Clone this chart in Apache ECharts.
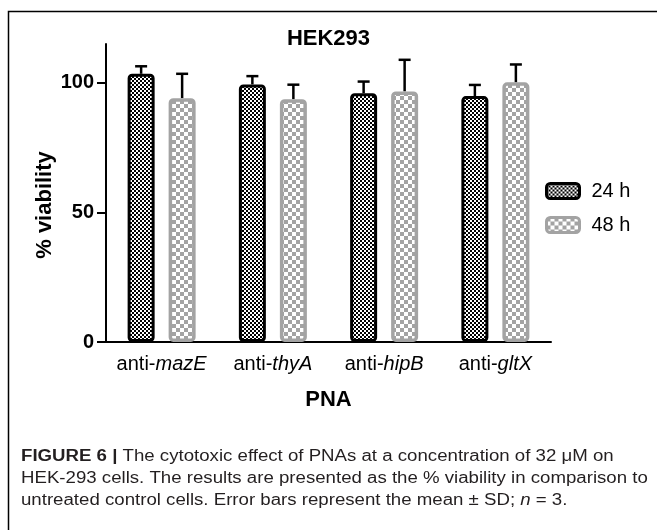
<!DOCTYPE html>
<html>
<head>
<meta charset="utf-8">
<script src="https://cdn.jsdelivr.net/npm/echarts@6/dist/echarts.min.js"></script>
<style>html,body{margin:0;padding:0;background:#fff;}#c{width:657px;height:530px;}</style>
</head>
<body>
<div id="c"></div>
<script>
// ---- data ----
var categories = ['anti-mazE', 'anti-thyA', 'anti-hipB', 'anti-gltX'];
var seriesNames = ['24 h', '48 h'];
var mean24 = [103.5, 99.4, 96.0, 94.9];
var sd24 = [2.9, 3.2, 4.5, 4.3];
var mean48 = [94.1, 93.7, 96.7, 100.2];
var sd48 = [9.4, 5.6, 12.2, 6.9];
var yTicks = [0, 50, 100];

// ---- styles ----
var FONT = 'Liberation Sans, Arial, Helvetica, sans-serif';
var GRAY = '#a3a3a3';
var BAR_W = 27, BAR_GAP = 14;
var OFFSET = (BAR_W + BAR_GAP) / 2;
var CAP_SCALE = 1.165;

function makePattern(cell, fg) {
  var c = document.createElement('canvas');
  c.width = cell * 2; c.height = cell * 2;
  var g = c.getContext('2d');
  g.fillStyle = '#fff'; g.fillRect(0, 0, c.width, c.height);
  g.fillStyle = fg;
  g.fillRect(0, 0, cell, cell);
  g.fillRect(cell, cell, cell, cell);
  return c;
}
var pat24 = { image: makePattern(2, '#000'), repeat: 'repeat' };
var pat48 = { image: makePattern(4, GRAY), repeat: 'repeat' };

function errData(means, sds) {
  return means.map(function (m, i) { return [i, m, sds[i]]; });
}
function errRender(sign) {
  return function (params, api) {
    var x = api.value(0), m = api.value(1), s = api.value(2);
    var p0 = api.coord([x, m]);
    var p1 = api.coord([x, m + s]);
    var cx = p0[0] + sign * OFFSET;
    var cap = 6;
    return {
      type: 'group',
      children: [
        { type: 'line', shape: { x1: cx, y1: p0[1], x2: cx, y2: p1[1] }, style: { stroke: '#000', lineWidth: 2.5 } },
        { type: 'line', shape: { x1: cx - cap, y1: p1[1], x2: cx + cap, y2: p1[1] }, style: { stroke: '#000', lineWidth: 2.5 } }
      ]
    };
  };
}

var chart = echarts.init(document.getElementById('c'), null, { renderer: 'canvas' });
chart.setOption({
  backgroundColor: '#fff',
  animation: false,
  textStyle: { fontFamily: FONT },
  title: {
    text: 'HEK293', left: 'center', top: 23,
    textStyle: { fontFamily: FONT, fontSize: 22, fontWeight: 'bold', color: '#000' }
  },
  grid: { left: 106, right: 106, top: 44, bottom: 188, containLabel: false },
  legend: {
    orient: 'vertical', left: 540, top: 176, itemWidth: 33, itemHeight: 15, itemGap: 14,
    textStyle: { fontFamily: FONT, fontSize: 20, color: '#000', padding: [0, 0, 0, 7], lineHeight: 18 },
    data: [
      { name: seriesNames[0], itemStyle: { color: pat24, borderColor: '#000', borderWidth: 3, borderRadius: 3 } },
      { name: seriesNames[1], itemStyle: { color: pat48, borderColor: GRAY, borderWidth: 3, borderRadius: 3 } }
    ]
  },
  xAxis: {
    type: 'category', data: categories,
    name: 'PNA', nameLocation: 'middle', nameGap: 47,
    nameTextStyle: { fontFamily: FONT, fontSize: 22, fontWeight: 'bold', color: '#000' },
    axisLine: { lineStyle: { color: '#000', width: 2 } },
    axisTick: { alignWithLabel: true, interval: 0, length: 6, lineStyle: { color: '#000', width: 2 } },
    axisLabel: {
      interval: 0, hideOverlap: false,
      fontFamily: FONT, fontSize: 20, color: '#000', margin: 12,
      formatter: function (v) { var p = v.split('-'); return p[0] + '-{i|' + p[1] + '}'; },
      rich: { i: { fontFamily: FONT, fontSize: 20, fontStyle: 'italic', color: '#000' } }
    }
  },
  yAxis: {
    type: 'value', min: 0, max: 115, interval: 50,
    axisLine: { show: true, lineStyle: { color: '#000', width: 2 } },
    axisTick: { show: true, length: 9, lineStyle: { color: '#000', width: 2 }, customValues: yTicks },
    axisLabel: { fontFamily: FONT, fontSize: 20, fontWeight: 'bold', color: '#000', margin: 12, customValues: yTicks },
    splitLine: { show: false }
  },
  series: [
    {
      name: seriesNames[0], type: 'bar', data: mean24, barWidth: BAR_W, barGap: (BAR_GAP / BAR_W * 100) + '%', z: 3,
      itemStyle: { color: pat24, borderColor: '#000', borderWidth: 3, borderRadius: 3 }
    },
    {
      name: seriesNames[1], type: 'bar', data: mean48, barWidth: BAR_W, z: 3,
      itemStyle: { color: pat48, borderColor: GRAY, borderWidth: 3.5, borderRadius: 3 }
    },
    { type: 'custom', renderItem: errRender(-1), data: errData(mean24, sd24), z: 2, silent: true },
    { type: 'custom', renderItem: errRender(1), data: errData(mean48, sd48), z: 2, silent: true }
  ],
  graphic: [
    { type: 'polyline', shape: { points: [[8.5, 530], [8.5, 11.5], [657, 11.5]] }, style: { stroke: '#000', lineWidth: 1.5, fill: null } },
    { type: 'text', x: 45, y: 205, rotation: Math.PI / 2,
      style: { text: '% viability', fontFamily: FONT, fontSize: 22, fontWeight: 'bold', fill: '#000', align: 'center', verticalAlign: 'middle' } },
    { type: 'text', x: 21, y: 457, scaleX: CAP_SCALE,
      style: { text: '{b|FIGURE 6 |} The cytotoxic effect of PNAs at a concentration of 32 μM on', fontFamily: FONT, fontSize: 16, fill: '#231f20', verticalAlign: 'middle',
        rich: { b: { fontFamily: FONT, fontSize: 16, fontWeight: 'bold', fill: '#231f20' } } } },
    { type: 'text', x: 21, y: 479, scaleX: CAP_SCALE,
      style: { text: 'HEK-293 cells. The results are presented as the % viability in comparison to', fontFamily: FONT, fontSize: 16, fill: '#231f20', verticalAlign: 'middle' } },
    { type: 'text', x: 21, y: 501, scaleX: CAP_SCALE,
      style: { text: 'untreated control cells. Error bars represent the mean ± SD; {i|n} = 3.', fontFamily: FONT, fontSize: 16, fill: '#231f20', verticalAlign: 'middle',
        rich: { i: { fontFamily: FONT, fontSize: 16, fontStyle: 'italic', fill: '#231f20' } } } }
  ]
});
</script>
</body>
</html>
